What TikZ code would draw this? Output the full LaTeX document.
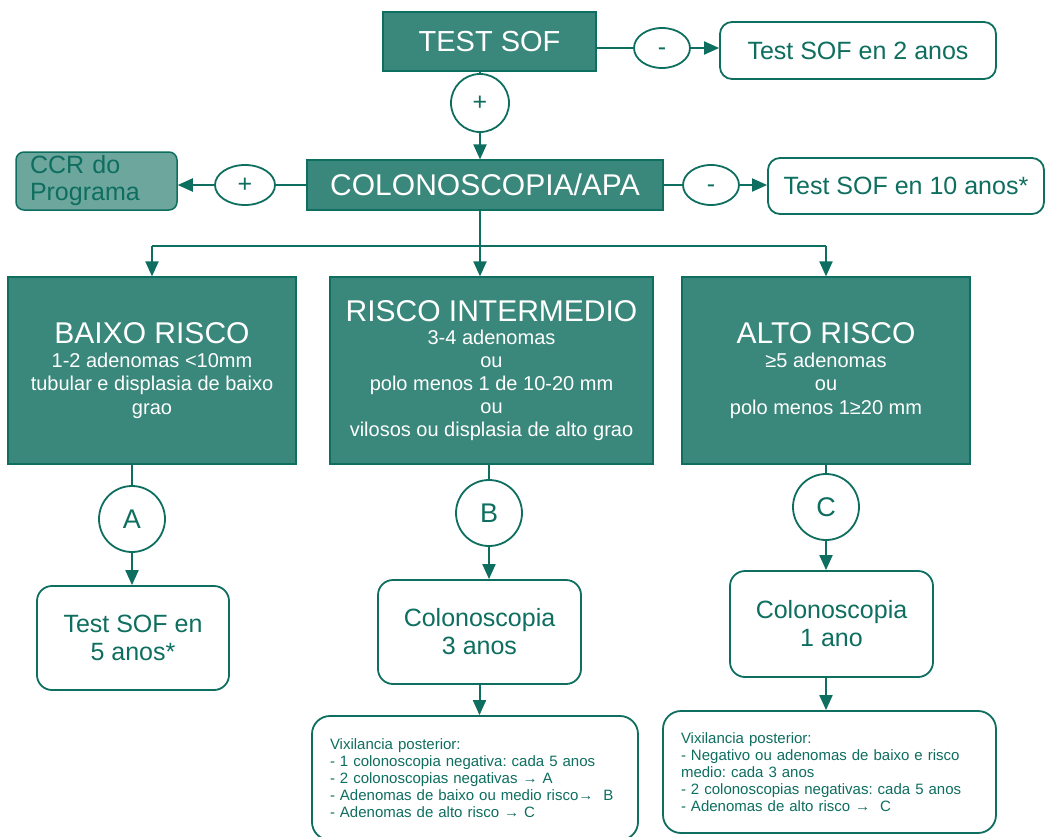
\documentclass[tikz,border=0pt]{standalone}
\usepackage{fontspec}
\setmainfont{Liberation Sans}
\usepackage{tikz}
\usetikzlibrary{arrows.meta,shapes.geometric}
\definecolor{tealbox}{HTML}{3A877B}
\definecolor{tealline}{HTML}{0E6E5F}
\definecolor{ccrfill}{HTML}{6DA69D}
\frenchspacing

\begin{document}
\begin{tikzpicture}[x=1pt, y=-1pt, >={Triangle[length=15pt,width=13pt]},
  link/.style={draw=tealline, line width=2pt},
  darkbox/.style={rectangle, draw=tealline, line width=1.2pt, fill=tealbox, text=white, inner sep=0pt, align=center},
  lightbox/.style={rectangle, rounded corners=8pt, draw=tealline, line width=1.5pt, fill=ccrfill, text=tealline, align=left, inner xsep=14pt, inner ysep=0pt},
  whitebox/.style={rectangle, rounded corners=12pt, draw=tealline, line width=1.8pt, fill=white, text=tealline, inner sep=0pt, align=center},
  sign/.style={ellipse, draw=tealline, line width=1.8pt, fill=white, text=tealline, inner sep=0pt, font=\fontsize{25}{25}\selectfont},
  minus/.style={sign, text height=14pt, text depth=0pt},
  letter/.style={circle, draw=tealline, line width=1.8pt, fill=white, text=tealline, inner sep=0pt, minimum size=66pt, font=\fontsize{27}{27}\selectfont},
  notebox/.style={whitebox, align=left, inner xsep=18pt, inner ysep=0pt, font=\fontsize{15}{17}\selectfont}]
  \useasboundingbox (0,0) rectangle (1047,836);

  \node[darkbox, minimum width=213pt, minimum height=59pt, font=\fontsize{29}{30}\selectfont] (testsof) at (489.5,41.5) {TEST SOF};
  \node[minus, minimum width=56pt, minimum height=40pt] (neg1) at (662,48) {-};
  \node[whitebox, minimum width=276pt, minimum height=57pt, font=\fontsize{25}{28}\selectfont] (sof2) at (858,50.5) {Test SOF en 2 anos};
  \node[sign, circle, minimum size=58pt] (pos1) at (480,103) {+};

  \node[darkbox, minimum width=356pt, minimum height=50pt, font=\fontsize{30}{30}\selectfont] (colono) at (485,185) {COLONOSCOPIA/APA};
  \node[sign, minimum width=60pt, minimum height=40pt] (pos2) at (245,185) {+};
  \node[lightbox, text width=133pt, minimum height=58pt, font=\fontsize{25}{27}\selectfont] (ccr) at (96.5,181) {CCR do\\Programa};
  \node[minus, minimum width=56pt, minimum height=40pt] (neg2) at (711,185) {-};
  \node[whitebox, minimum width=276pt, minimum height=56pt, font=\fontsize{25}{28}\selectfont] (sof10) at (906,186) {Test SOF en 10 anos*};

  \coordinate (split) at (480,246);

  \node[darkbox, minimum width=288pt, minimum height=187pt, font=\fontsize{20}{23.5}\selectfont] (low) at (152,370.5)
    {{\fontsize{30}{32}\selectfont BAIXO RISCO}\\1-2 adenomas <10mm\\tubular e displasia de baixo\\grao};
  \node[darkbox, minimum width=323pt, minimum height=187pt, font=\fontsize{20}{23}\selectfont] (med) at (491.5,370.5)
    {{\fontsize{30}{32}\selectfont RISCO INTERMEDIO}\\3-4 adenomas\\ou\\polo menos 1 de 10-20 mm\\ou\\vilosos ou displasia de alto grao};
  \node[darkbox, minimum width=288pt, minimum height=187pt, font=\fontsize{20}{23.5}\selectfont] (high) at (826,370.5)
    {{\fontsize{30}{32}\selectfont ALTO RISCO}\\≥5 adenomas\\ou\\polo menos 1≥20 mm};

  \node[letter] (A) at (132,519) {A};
  \node[whitebox, rounded corners=15pt, minimum width=192pt, minimum height=104pt, font=\fontsize{25}{28}\selectfont] (sofA) at (133,638) {Test SOF en\\5 anos*};
  \node[letter] (B) at (489,513) {B};
  \node[whitebox, rounded corners=15pt, minimum width=203pt, minimum height=104pt, font=\fontsize{25}{28}\selectfont] (colB) at (479.5,632) {Colonoscopia\\3 anos};
  \node[notebox, rounded corners=18pt, text width=290pt, minimum height=124pt] (vixB) at (475,778)
    {Vixilancia posterior:\\- 1 colonoscopia negativa: cada 5 anos\\- 2 colonoscopias negativas → A\\- Adenomas de baixo ou medio risco→~~B\\- Adenomas de alto risco → C};
  \node[letter] (C) at (826,507) {C};
  \node[whitebox, rounded corners=15pt, minimum width=203pt, minimum height=106pt, font=\fontsize{25}{28}\selectfont] (colC) at (831.5,624) {Colonoscopia\\1 ano};
  \node[notebox, rounded corners=18pt, text width=297pt, minimum height=122pt] (vixC) at (829.5,772)
    {Vixilancia posterior:\\- Negativo ou adenomas de baixo e risco\\medio: cada 3 anos\\- 2 colonoscopias negativas: cada 5 anos\\- Adenomas de alto risco →~~C};

  \draw[link] (testsof.east |- neg1) -- (neg1);
  \draw[link,->] (neg1) -- (neg1 -| sof2.west);
  \draw[link] (testsof.south -| pos1) -- (pos1);
  \draw[link,->] (pos1) -- (pos1 |- colono.north);
  \draw[link] (colono.west) -- (pos2);
  \draw[link,->] (pos2) -- (pos2 -| ccr.east);
  \draw[link] (colono.east) -- (neg2);
  \draw[link,->] (neg2) -- (neg2 -| sof10.west);
  \draw[link] (colono.south -| split) -- (split);
  \draw[link] (split -| low) -- (split -| high);
  \draw[link,->] (split -| low) -- (low.north);
  \draw[link,->] (split) -- (split |- med.north);
  \draw[link,->] (split -| high) -- (high.north);
  \draw[link] (low.south -| A) -- (A);
  \draw[link,->] (A) -- (A |- sofA.north);
  \draw[link] (med.south -| B) -- (B);
  \draw[link,->] (B) -- (B |- colB.north);
  \draw[link,->] (colB.south) -- (colB.south |- vixB.north);
  \draw[link] (high.south -| C) -- (C);
  \draw[link,->] (C) -- (C |- colC.north);
  \draw[link,->] (colC.south -| C) -- (C |- vixC.north);
\end{tikzpicture}
\end{document}
